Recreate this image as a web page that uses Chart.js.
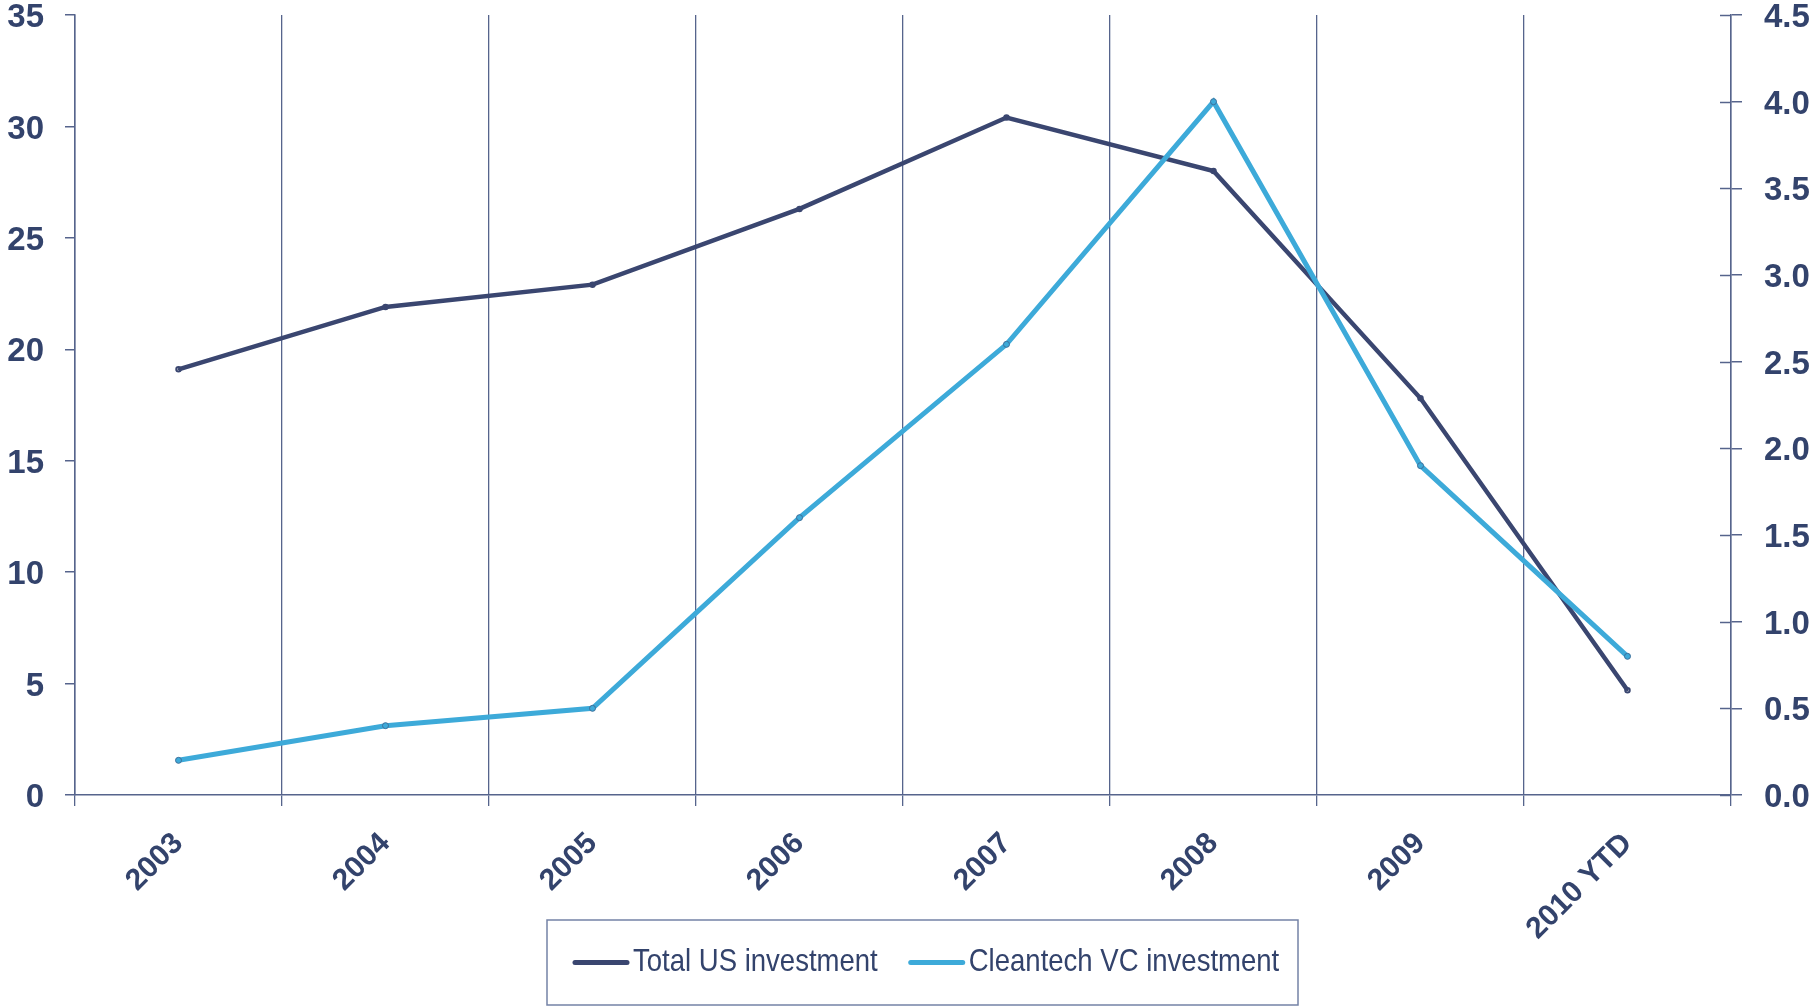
<!DOCTYPE html>
<html lang="en">
<head>
    <meta charset="UTF-8">
    <title>US investment vs Cleantech VC investment</title>
    <script src="https://cdn.jsdelivr.net/npm/chart.js@4.4.0/dist/chart.umd.js"></script>
    <style>
        html, body { margin: 0; padding: 0; background: #fff; }
        #wrap { position: relative; width: 1820px; height: 1008px; }
    </style>
</head>
<body>
    <div id="wrap">
        <canvas id="investChart"></canvas>
    </div>

    <script>
        // Chart data
        const years = ['2003', '2004', '2005', '2006', '2007', '2008', '2009', '2010 YTD'];
        const totalUS = [19.1, 21.9, 22.9, 26.3, 30.4, 28.0, 17.8, 4.7];
        const cleantechVC = [0.2, 0.4, 0.5, 1.6, 2.6, 4.0, 1.9, 0.8];
        const leftTicks = [0, 5, 10, 15, 20, 25, 30, 35];
        const rightTicks = [0.0, 0.5, 1.0, 1.5, 2.0, 2.5, 3.0, 3.5, 4.0, 4.5];

        const navy = '#3a4670';
        const cyan = '#3daad9';
        const axisColor = '#56648c';
        const textColor = '#33436c';
        const fontFamily = "'Liberation Sans', Arial, sans-serif";

        // Right axis tick marks cross the axis line: draw the inner half
        const innerTicks = {
            id: 'innerTicks',
            afterDatasetsDraw(chart) {
                const ctx = chart.ctx;
                const scale = chart.scales.y1;
                const right = chart.chartArea.right;
                ctx.save();
                ctx.strokeStyle = axisColor;
                ctx.lineWidth = 1.5;
                scale.ticks.forEach(t => {
                    const py = Math.round(scale.getPixelForValue(t.value)) + 0.5;
                    ctx.beginPath();
                    ctx.moveTo(right - 11, py);
                    ctx.lineTo(right, py);
                    ctx.stroke();
                });
                ctx.restore();
            }
        };

        // Legend drawn on the canvas, with a frame round it
        const boxedLegend = {
            id: 'boxedLegend',
            afterDraw(chart) {
                const ctx = chart.ctx;
                const area = chart.chartArea;
                const left = area.left + 472, top = area.bottom + 125;
                const width = 751, height = 85;
                ctx.save();
                ctx.strokeStyle = '#7482a6';
                ctx.lineWidth = 1.5;
                ctx.strokeRect(left, top, width, height);

                const midY = top + height / 2;
                let x = left + 28;
                chart.data.datasets.forEach(ds => {
                    ctx.strokeStyle = ds.borderColor;
                    ctx.lineWidth = 5;
                    ctx.lineCap = 'round';
                    ctx.beginPath();
                    ctx.moveTo(x, midY);
                    ctx.lineTo(x + 52, midY);
                    ctx.stroke();
                    ctx.fillStyle = textColor;
                    ctx.font = '32px ' + fontFamily;
                    ctx.textBaseline = 'middle';
                    ctx.save();
                    ctx.translate(x + 58, midY);
                    ctx.scale(0.86, 1);
                    ctx.fillText(ds.label, 0, 0);
                    const w = ctx.measureText(ds.label).width * 0.86;
                    ctx.restore();
                    x += 58 + w + 33;
                });
                ctx.restore();
            }
        };

        // y axes: no extra room above the plot for the top label
        const trimPadding = scale => {
            scale.paddingTop = 0;
            scale.paddingBottom = 0;
        };

        new Chart(document.getElementById('investChart'), {
            type: 'line',
            data: {
                labels: years,
                datasets: [{
                    label: 'Total US investment',
                    data: totalUS,
                    yAxisID: 'y',
                    borderColor: navy,
                    backgroundColor: navy,
                    borderWidth: 4.5,
                    pointRadius: 1,
                    pointBorderColor: navy,
                    pointBackgroundColor: navy,
                    tension: 0,
                    order: 1
                }, {
                    label: 'Cleantech VC investment',
                    data: cleantechVC,
                    yAxisID: 'y1',
                    borderColor: cyan,
                    backgroundColor: cyan,
                    borderWidth: 5,
                    pointRadius: 3,
                    pointBorderWidth: 1,
                    pointBorderColor: '#3d6f9a',
                    pointBackgroundColor: cyan,
                    tension: 0,
                    order: 0
                }]
            },
            options: {
                responsive: true,
                maintainAspectRatio: false,
                animation: false,
                layout: { padding: { top: 15, left: 0, right: 0, bottom: 0 } },
                plugins: {
                    legend: { display: false },
                    tooltip: { enabled: false }
                },
                scales: {
                    x: {
                        offset: true,
                        grid: {
                            offset: true,
                            color: axisColor,
                            lineWidth: 1.3,
                            tickLength: 11,
                            drawOnChartArea: true
                        },
                        border: { color: axisColor, width: 1.5 },
                        ticks: {
                            minRotation: 45,
                            maxRotation: 45,
                            padding: 20,
                            color: textColor,
                            font: { family: fontFamily, size: 30, weight: 'bold' }
                        },
                        afterFit: scale => { scale.height = 213; }
                    },
                    y: {
                        position: 'left',
                        min: leftTicks[0],
                        max: leftTicks[leftTicks.length - 1],
                        afterBuildTicks: scale => {
                            scale.ticks = leftTicks.map(v => ({ value: v }));
                        },
                        grid: {
                            drawOnChartArea: false,
                            color: axisColor,
                            lineWidth: 1.5,
                            tickLength: 10
                        },
                        border: { color: axisColor, width: 1.5 },
                        ticks: {
                            padding: 21,
                            labelOffset: 3,
                            color: textColor,
                            font: { family: fontFamily, size: 33, weight: 'bold' }
                        },
                        afterFit: scale => { scale.width = 75; trimPadding(scale); }
                    },
                    y1: {
                        position: 'right',
                        min: rightTicks[0],
                        max: rightTicks[rightTicks.length - 1],
                        afterBuildTicks: scale => {
                            scale.ticks = rightTicks.map(v => ({ value: v }));
                        },
                        grid: {
                            drawOnChartArea: false,
                            color: axisColor,
                            lineWidth: 1.5,
                            tickLength: 11
                        },
                        border: { color: axisColor, width: 1.5 },
                        ticks: {
                            padding: 22,
                            labelOffset: 3,
                            color: textColor,
                            font: { family: fontFamily, size: 33, weight: 'bold' },
                            callback: v => Number(v).toFixed(1)
                        },
                        afterFit: scale => { scale.width = 89; trimPadding(scale); }
                    }
                }
            },
            plugins: [innerTicks, boxedLegend]
        });
    </script>
</body>
</html>
